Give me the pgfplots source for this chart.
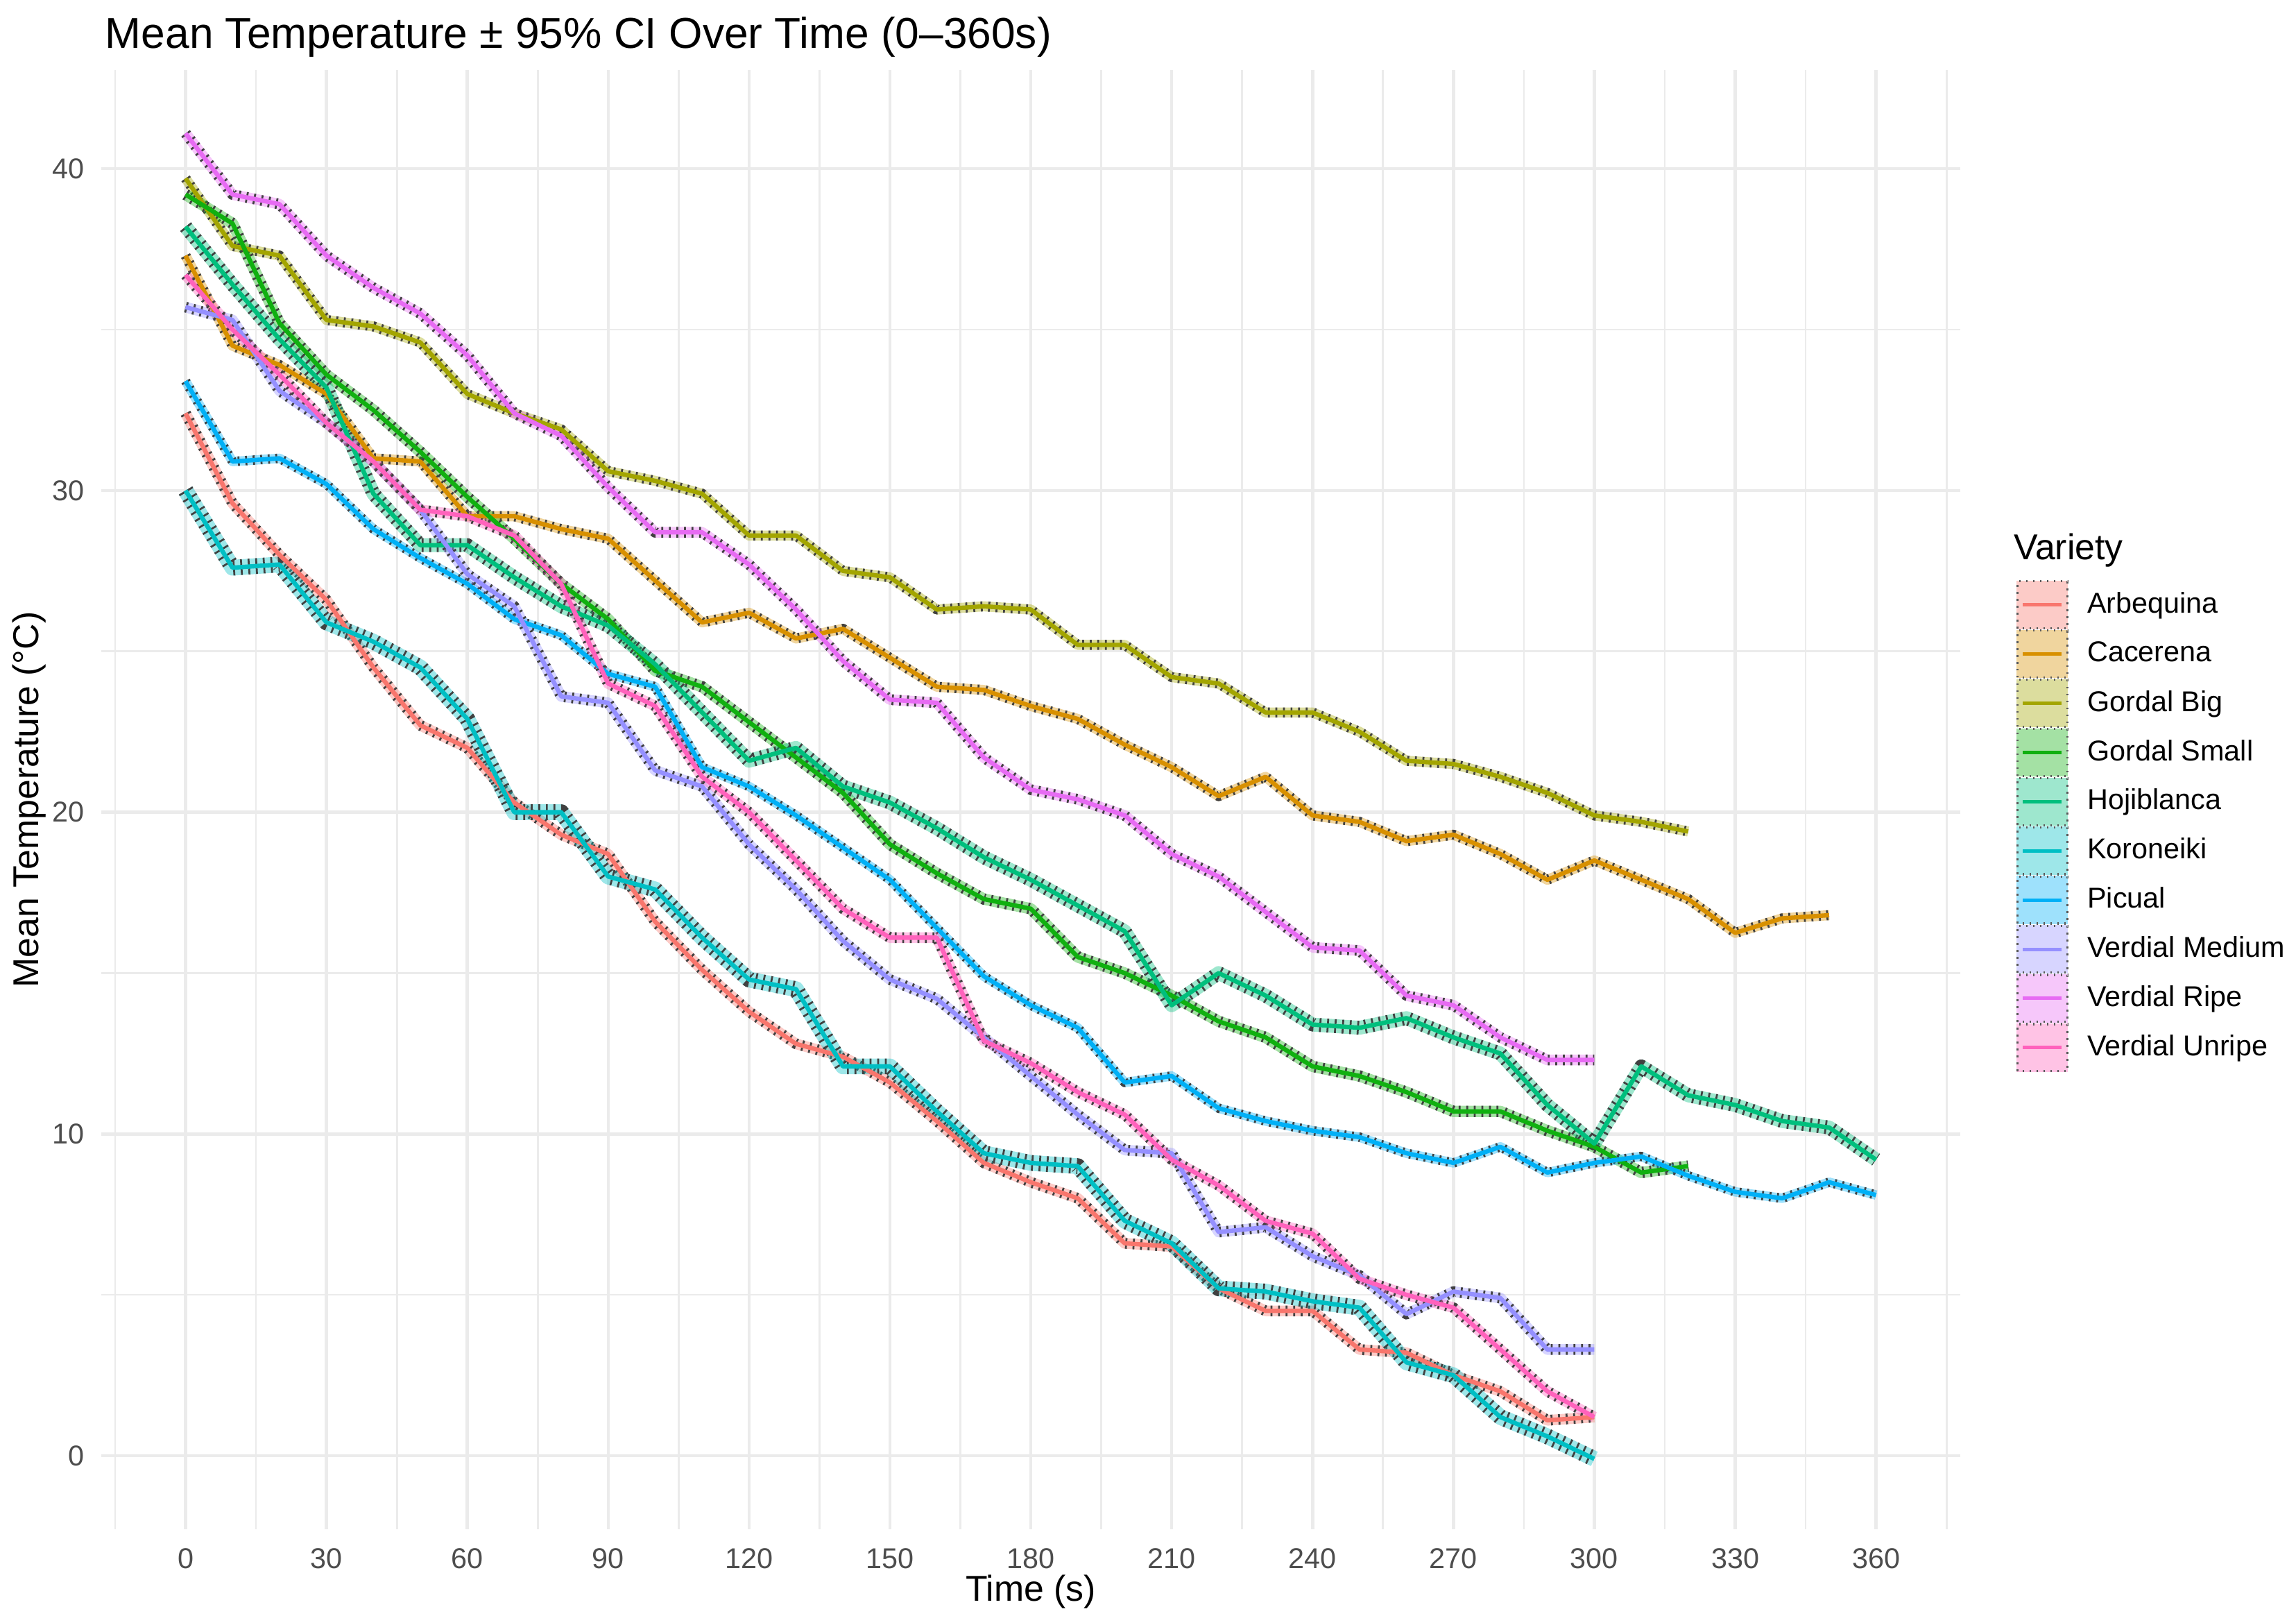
\documentclass[border=0pt]{standalone}
\usepackage{fontspec}
\setmainfont{Liberation Sans}
\usepackage{pgfplots}
\usepackage{pgfplotstable}
\pgfplotsset{compat=1.18}
\definecolor{cArb}{HTML}{F8766D}
\definecolor{cCac}{HTML}{D89000}
\definecolor{cGBig}{HTML}{A3A500}
\definecolor{cGSmall}{HTML}{10B010}
\definecolor{cHoj}{HTML}{00BF7D}
\definecolor{cKor}{HTML}{00BFC4}
\definecolor{cPic}{HTML}{00B0F6}
\definecolor{cVMed}{HTML}{9590FF}
\definecolor{cVRipe}{HTML}{E76BF3}
\definecolor{cVUnr}{HTML}{FF62BC}
\definecolor{gridc}{HTML}{EBEBEB}
\definecolor{tickc}{HTML}{4D4D4D}
\pgfplotstableread{
t   Arb  Cac   GBig GSmall Hoj  Kor  Pic  VMed VRipe VUnr
0   32.4 37.3  39.7 39.2   38.2 30.0 33.4 35.7 41.1  36.7
10  29.6 34.5  37.6 38.3   36.4 27.6 30.9 35.3 39.2  35.0
20  28.0 33.9  37.3 35.2   34.7 27.7 31.0 33.1 38.9  33.6
30  26.6 33.0  35.3 33.6   33.2 25.9 30.2 32.1 37.3  32.1
40  24.5 31.0  35.1 32.5   29.9 25.3 28.8 30.9 36.3  30.9
50  22.7 30.9  34.6 31.2   28.3 24.5 27.9 29.4 35.5  29.4
60  22.0 29.2  33.0 29.8   28.3 22.9 27.1 27.4 34.2  29.2
70  20.3 29.2  32.4 28.5   27.3 20.0 26.0 26.4 32.4  28.6
80  19.3 28.8  31.9 27.1   26.4 20.0 25.5 23.6 31.7  27.1
90  18.7 28.5  30.6 26.0   25.8 18.0 24.3 23.4 30.1  24.0
100 16.6 27.2  30.3 24.4   24.6 17.6 23.9 21.3 28.7  23.3
110 15.1 25.9  29.9 23.9   23.1 16.1 21.4 20.8 28.7  21.1
120 13.8 26.2  28.6 22.8   21.6 14.8 20.8 19.0 27.7  20.0
130 12.8 25.4  28.6 21.7   22.0 14.5 19.9 17.6 26.3  18.5
140 12.4 25.7  27.5 20.6   20.8 12.1 18.9 16.0 24.7  17.0
150 11.6 24.8  27.3 19.0   20.3 12.1 17.9 14.8 23.5  16.1
160 10.4 23.9  26.3 18.1   19.5 10.7 16.4 14.2 23.4  16.1
170 9.1  23.8  26.4 17.3   18.6 9.4  14.9 13.0 21.7  12.9
180 8.5  23.3  26.3 17.0   17.9 9.1  14.0 11.8 20.7  12.2
190 8.0  22.9  25.2 15.5   17.1 9.0  13.3 10.6 20.4  11.3
200 6.6  22.1  25.2 15.0   16.3 7.3  11.6 9.5  19.9  10.6
210 6.5  21.4  24.2 14.3   14.0 6.6  11.8 9.4  18.7  9.2
220 5.2  20.5  24.0 13.5   15.0 5.2  10.8 6.95 18.0  8.4
230 4.5  21.1  23.1 13.0   14.3 5.1  10.4 7.1  16.9  7.3
240 4.5  19.9  23.1 12.1   13.4 4.8  10.1 6.2  15.8  6.9
250 3.3  19.7  22.5 11.8   13.3 4.6  9.9  5.6  15.7  5.5
260 3.2  19.1  21.6 11.3   13.6 2.9  9.4  4.4  14.3  5.0
270 2.5  19.3  21.5 10.7   13.0 2.5  9.1  5.1  14.0  4.6
280 2.0  18.7  21.1 10.7   12.5 1.2  9.6  4.9  13.0  3.3
290 1.1  17.9  20.6 10.1   10.9 0.6  8.8  3.3  12.3  2.0
300 1.2  18.5  19.9 9.6    9.7  -0.1 9.1  3.3  12.3  1.2
310 nan  17.9  19.7 8.8    12.1 nan  9.3  nan  nan   nan
320 nan  17.3  19.4 9.0    11.2 nan  8.7  nan  nan   nan
330 nan  16.25 nan  nan    10.9 nan  8.2  nan  nan   nan
340 nan  16.7  nan  nan    10.4 nan  8.0  nan  nan   nan
350 nan  16.8  nan  nan    10.2 nan  8.5  nan  nan   nan
360 nan  nan   nan  nan    9.2  nan  8.1  nan  nan   nan
}\data
\newcommand{\ribbon}[3]{%
  \addplot[draw=#2, draw opacity=0.38, line width=#3, line join=round, forget plot] table[x=t,y=#1]{\data};
  \addplot[draw=black!75, line width=#3, dash pattern=on 0.6pt off 1.8pt, line join=round, forget plot] table[x=t,y=#1]{\data};
}
\newcommand{\serline}[2]{%
  \addplot[draw=#2, line width=1.4pt, line join=round, forget plot] table[x=t,y=#1]{\data};
}
\newcommand{\legkey}[2]{%
  \addlegendimage{legend image code/.code={%
    \fill[#1!38] (0pt,-7.45pt) rectangle (15.9pt,7.45pt);
    \draw[black!65, line width=0.7pt, dash pattern=on 0.6pt off 1.6pt] (0pt,-7.45pt) rectangle (15.9pt,7.45pt);
    \draw[#1, line width=1.1pt] (1.8pt,0pt) -- (14.1pt,0pt);}}
  \addlegendentry{#2}
}
\begin{document}
\begin{tikzpicture}
\begin{axis}[
  scale only axis, width=589.9pt, height=462.6pt,
  xmin=-18, xmax=378, ymin=-2.28, ymax=43.06,
  xtick={0,30,...,360}, ytick={0,10,...,40},
  minor xtick={-15,15,...,375}, minor ytick={5,15,25,35},
  grid=both,
  major grid style={draw=gridc, line width=1.0pt},
  minor grid style={draw=gridc, line width=0.6pt},
  axis line style={draw=none},
  tick style={draw=none},
  /pgf/number format/assume math mode=true,
  ticklabel style={font=\fontsize{9.1}{10}\selectfont, text=tickc},
  xticklabel style={anchor=base, inner sep=0pt, yshift=-12.4pt},
  yticklabel style={anchor=east, inner sep=0pt, xshift=-5.1pt},
  xlabel={Time (s)},
  ylabel={Mean Temperature (°C)},
  xlabel style={at={(axis description cs:0.5,-0.0493)}, anchor=base, inner sep=0pt, font=\fontsize{11.4}{13}\selectfont},
  ylabel style={at={(axis description cs:-0.0387,0.5)}, anchor=center, inner sep=0pt, font=\fontsize{11.4}{13}\selectfont},
  every axis title shift=0pt,
  title={Mean Temperature ± 95\% CI Over Time (0–360s)},
  title style={at={(axis description cs:0.002,1.0151)}, anchor=base west, inner sep=0pt, font=\fontsize{13.7}{15}\selectfont},
  legend cell align=left,
  legend style={at={(axis description cs:1.0299,0.6504)}, anchor=north west, draw=none, fill=none,
    inner sep=0pt, outer sep=0pt, row sep=0pt, font=\fontsize{9.1}{10}\selectfont,
    nodes={inner sep=0pt}, /tikz/every odd column/.append style={column sep=6pt}},
]
\ribbon{Arb}{cArb}{3.4pt}
\ribbon{Cac}{cCac}{3.2pt}
\ribbon{GBig}{cGBig}{3.2pt}
\ribbon{GSmall}{cGSmall}{3.6pt}
\ribbon{Hoj}{cHoj}{4.4pt}
\ribbon{Kor}{cKor}{5.0pt}
\ribbon{Pic}{cPic}{3.0pt}
\ribbon{VMed}{cVMed}{3.4pt}
\ribbon{VRipe}{cVRipe}{3.4pt}
\ribbon{VUnr}{cVUnr}{3.4pt}
\serline{Arb}{cArb}
\serline{Cac}{cCac}
\serline{GBig}{cGBig}
\serline{GSmall}{cGSmall}
\serline{Hoj}{cHoj}
\serline{Kor}{cKor}
\serline{Pic}{cPic}
\serline{VMed}{cVMed}
\serline{VRipe}{cVRipe}
\serline{VUnr}{cVUnr}
\legkey{cArb}{Arbequina}
\legkey{cCac}{Cacerena}
\legkey{cGBig}{Gordal Big}
\legkey{cGSmall}{Gordal Small}
\legkey{cHoj}{Hojiblanca}
\legkey{cKor}{Koroneiki}
\legkey{cPic}{Picual}
\legkey{cVMed}{Verdial Medium}
\legkey{cVRipe}{Verdial Ripe}
\legkey{cVUnr}{Verdial Unripe}
\end{axis}
\node[anchor=base west, inner sep=0pt, font=\fontsize{11.4}{13}\selectfont] at ([xshift=16.7pt, yshift=-155.1pt]current axis.north east) {Variety};
\pgfresetboundingbox
\path ([xshift=-32.05pt, yshift=-27.5pt]current axis.south west) rectangle ([xshift=106.4pt, yshift=22.3pt]current axis.north east);
\end{tikzpicture}
\end{document}
